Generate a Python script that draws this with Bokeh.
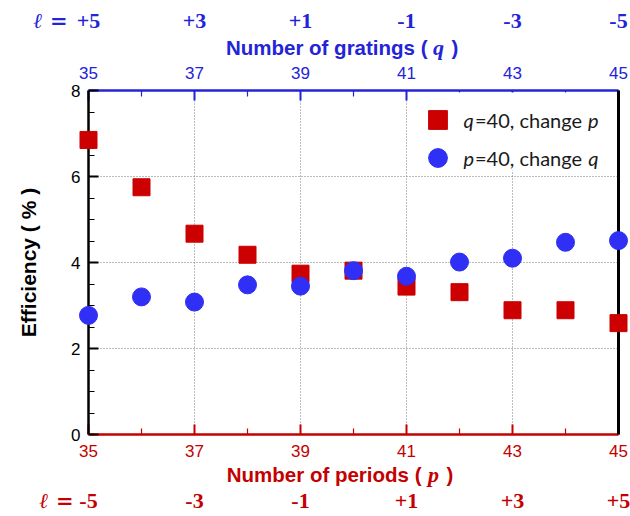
from bokeh.plotting import figure
from bokeh.models import (LinearAxis, FixedTicker, Range1d, Legend,
                          LegendItem, BoxAnnotation)
from bokeh.core.properties import value
from bokeh.embed import file_html
from bokeh.resources import INLINE

# Efficiency (%) against the number of periods p (q held at 40)
# and against the number of gratings q (p held at 40)
counts = [35, 36, 37, 38, 39, 40, 41, 42, 43, 44, 45]
eff_vs_p = [6.85, 5.75, 4.67, 4.18, 3.74, 3.81, 3.44, 3.31, 2.89, 2.89, 2.59]
eff_vs_q = [2.77, 3.20, 3.08, 3.48, 3.45, 3.81, 3.68, 4.01, 4.10, 4.47, 4.51]

count_ticks = [35, 37, 39, 41, 43, 45]
count_minor = [36, 38, 40, 42, 44]
ell_p = ["-5", "-3", "-1", "+1", "+3", "+5"]   # topological charge under each p tick
ell_q = ["+5", "+3", "+1", "-1", "-3", "-5"]   # topological charge over each q tick
eff_ticks = [0, 2, 4, 6, 8]
eff_minor = [0.5, 1, 1.5, 2.5, 3, 3.5, 4.5, 5, 5.5, 6.5, 7, 7.5]

RED = "#c40000"
BLUE = "#2323d8"
RED_MARK = "#cc0000"
BLUE_MARK = "#2f2ff5"
KEY_TEXT = "#1a1a1a"

W, H = 630, 516
L, R, T, B = 88, 12, 90, 82
FW, FH = W - L - R, H - T - B


def fx(px):
    """canvas pixel column -> x data value"""
    return 35 + (px - L) * 10 / FW


def fy(py):
    """canvas pixel row -> y data value"""
    return 8 - (py - T) * 8 / FH


p = figure(width=W, height=H, x_range=Range1d(35, 45), y_range=Range1d(0, 8),
           output_backend="svg", toolbar_location=None,
           min_border_left=L, min_border_right=R,
           min_border_top=T, min_border_bottom=B,
           outline_line_color=None, background_fill_color="white")

# dotted grid
p.xgrid.ticker = FixedTicker(ticks=[37, 39, 41, 43])
p.ygrid.ticker = FixedTicker(ticks=[2, 4, 6])
for g in (p.xgrid[0], p.ygrid[0]):
    g.grid_line_color = "#7a7a7a"
    g.grid_line_dash = "1 2"
    g.grid_line_width = 1


def style_count_axis(ax, color, standoff):
    ax.ticker = FixedTicker(ticks=count_ticks, minor_ticks=count_minor)
    ax.axis_line_color = color
    ax.axis_line_width = 2.5
    ax.major_tick_line_color = color
    ax.major_tick_line_width = 2
    ax.major_tick_in = 10
    ax.major_tick_out = 0
    ax.minor_tick_line_color = color
    ax.minor_tick_line_width = 1.2
    ax.minor_tick_in = 6
    ax.minor_tick_out = 0
    ax.major_label_text_color = color
    ax.major_label_text_font = "Liberation Sans"
    ax.major_label_text_font_size = "17px"
    ax.major_label_standoff = standoff


style_count_axis(p.xaxis[0], RED, 10)
top_axis = LinearAxis()
style_count_axis(top_axis, BLUE, 12)
p.add_layout(top_axis, "above")

yax = p.yaxis[0]
yax.ticker = FixedTicker(ticks=eff_ticks, minor_ticks=eff_minor)
yax.axis_line_color = "black"
yax.axis_line_width = 2.5
yax.major_tick_line_color = "black"
yax.major_tick_line_width = 2
yax.major_tick_in = 10
yax.major_tick_out = 0
yax.minor_tick_line_color = "black"
yax.minor_tick_line_width = 1.2
yax.minor_tick_in = 6
yax.minor_tick_out = 0
yax.major_label_text_color = "black"
yax.major_label_text_font = "Liberation Sans"
yax.major_label_text_font_size = "17px"
yax.major_label_standoff = 8
yax.axis_label = "Efficiency ( % )"
yax.axis_label_text_font = "Liberation Sans"
yax.axis_label_text_font_style = "bold"
yax.axis_label_text_font_size = "21px"
yax.axis_label_text_color = "black"
yax.axis_label_standoff = 28

right_axis = LinearAxis(ticker=FixedTicker(ticks=[]), axis_line_color="black",
                        axis_line_width=3, major_tick_in=0, major_tick_out=0,
                        minor_tick_in=0, minor_tick_out=0,
                        major_label_text_font_size="0px")
p.add_layout(right_axis, "right")

# data markers (drawn above the axes, not clipped at the frame edge)
r_p = p.scatter(counts, eff_vs_p, marker="square", size=17,
                fill_color=RED_MARK, line_color=RED_MARK, level="overlay")
r_q = p.scatter(counts, eff_vs_q, marker="circle", size=18,
                fill_color=BLUE_MARK, line_color=BLUE_MARK, level="overlay")

# white patch keeps the grid out from behind the legend
p.add_layout(BoxAnnotation(left=fx(414), right=fx(612), top=fy(92), bottom=fy(170),
                           fill_color="white", fill_alpha=1, line_color=None))


def legend_swatch(renderer, bottom):
    # swatch only; the entry text is set below with italic variable names
    return Legend(items=[LegendItem(label=" ", renderers=[renderer])],
                  location=(326, bottom), orientation="vertical",
                  glyph_width=47, glyph_height=47, padding=0, margin=0,
                  label_standoff=2, label_text_font="Lato",
                  label_text_font_size="20px", label_text_color=KEY_TEXT,
                  border_line_color=None, background_fill_alpha=0)


p.add_layout(legend_swatch(r_p, 291))
p.add_layout(legend_swatch(r_q, 253))


def add_text(texts, xs, ys, color, font, size, style, align, baseline="alphabetic"):
    p.text(x=xs, y=ys, text=texts, text_color=color,
           text_font=value(font), text_font_size=value(size),
           text_font_style=style, text_align=align,
           text_baseline=baseline, level="overlay")


# legend entry texts: "q=40, change p" and "p=40, change q"
for var_a, var_b, row in (("q", "p", 119), ("p", "q", 157)):
    add_text([var_a], [fx(463)], [fy(row)], KEY_TEXT, "Lato", "20px", "italic", "left", "middle")
    add_text(["=40, change"], [fx(474.5)], [fy(row)], KEY_TEXT, "Lato", "20px", "normal", "left", "middle")
    add_text([var_b], [fx(598)], [fy(row)], KEY_TEXT, "Lato", "20px", "italic", "right", "middle")

# axis titles
add_text(["Number of periods ("], [fx(421)], [fy(474)], RED, "Liberation Sans", "20.5px", "bold", "right")
add_text(["p"], [fx(433)], [fy(474)], RED, "Liberation Serif", "22px", "bold italic", "center")
add_text([")"], [fx(446)], [fy(474)], RED, "Liberation Sans", "20.5px", "bold", "left")

add_text(["Number of gratings ("], [fx(427)], [fy(47)], BLUE, "Liberation Sans", "20.5px", "bold", "right")
add_text(["q"], [fx(438)], [fy(47)], BLUE, "Liberation Serif", "22px", "bold italic", "center")
add_text([")"], [fx(451)], [fy(47)], BLUE, "Liberation Sans", "20.5px", "bold", "left")

# topological charge rows
add_text(ell_p, count_ticks, [fy(500)] * len(ell_p), RED, "Liberation Serif", "22px", "bold", "center")
add_text(ell_q, count_ticks, [fy(20)] * len(ell_q), BLUE, "Liberation Serif", "22px", "bold", "center")
add_text(["\u2113 ="], [fx(73)], [fy(500)], RED, "DejaVu Serif", "21px", "bold italic", "right")
add_text(["\u2113 ="], [fx(67)], [fy(20)], BLUE, "DejaVu Serif", "21px", "bold italic", "right")

open("out.html", "w").write(file_html(p, INLINE))
